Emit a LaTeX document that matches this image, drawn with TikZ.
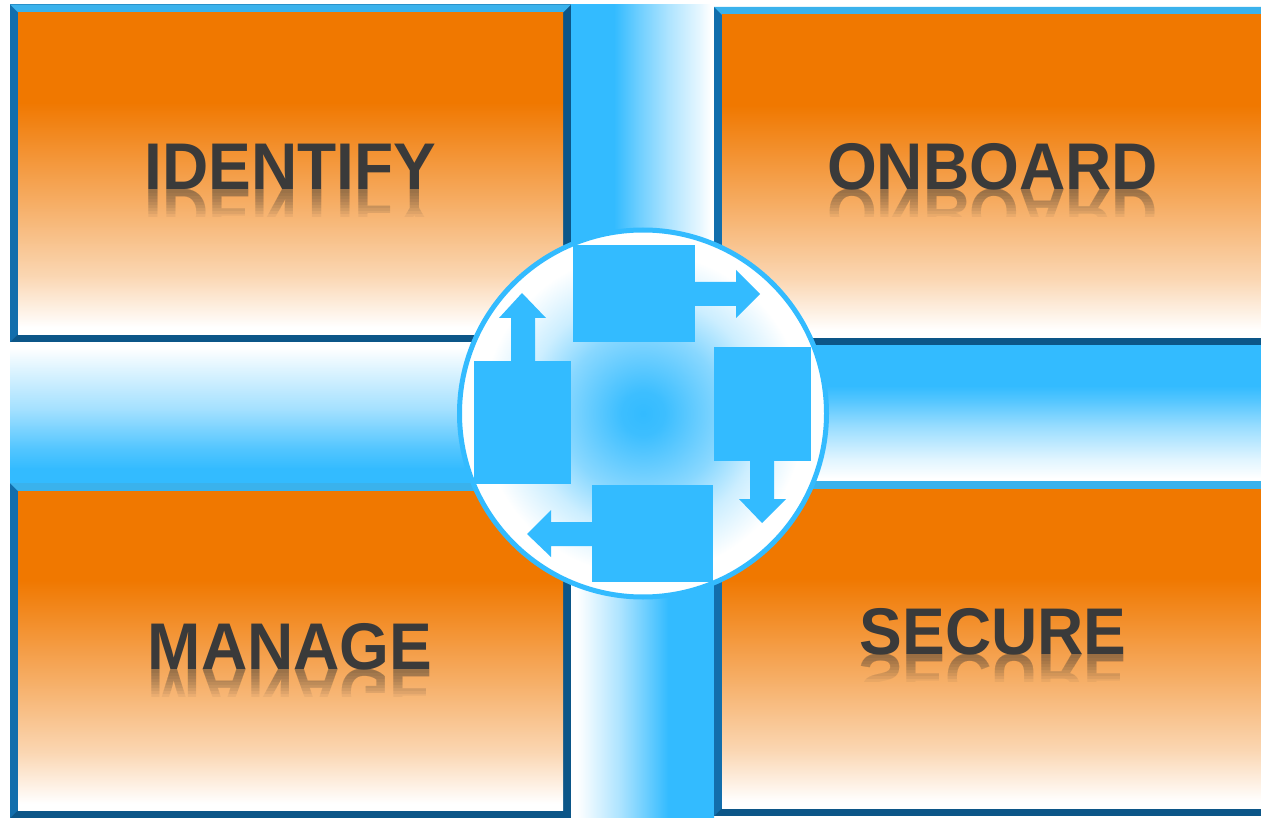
\documentclass[tikz,border=0pt]{standalone}
\usepackage{fontspec}
\setmainfont{Liberation Sans}
\definecolor{bl}{RGB}{51,187,255}
\definecolor{orng}{RGB}{240,120,0}
\definecolor{txtgray}{RGB}{58,58,58}
\definecolor{frdark}{RGB}{12,86,136}
\definecolor{frleft}{RGB}{18,110,172}
\definecolor{frtop}{RGB}{58,178,236}
\pgfdeclareverticalshading{ofade}{100bp}{color(0bp)=(white); color(26bp)=(white); color(34bp)=(orng!30!white); color(46bp)=(orng!62!white); color(61bp)=(orng); color(100bp)=(orng)}
\pgfdeclarehorizontalshading{vfadeR}{100bp}{color(0bp)=(bl); color(40bp)=(bl); color(49bp)=(bl!70!white); color(59bp)=(bl!40!white); color(70bp)=(bl!12!white); color(74bp)=(white); color(100bp)=(white)}
\pgfdeclarehorizontalshading{vfadeL}{100bp}{color(0bp)=(white); color(27bp)=(white); color(31bp)=(bl!10!white); color(42bp)=(bl!40!white); color(52bp)=(bl!75!white); color(59bp)=(bl); color(100bp)=(bl)}
\pgfdeclareverticalshading{hfadeUp}{100bp}{color(0bp)=(bl); color(30bp)=(bl); color(37bp)=(bl!85!white); color(51bp)=(bl!45!white); color(66bp)=(bl!15!white); color(73bp)=(white); color(100bp)=(white)}
\pgfdeclareverticalshading{hfadeDown}{100bp}{color(0bp)=(white); color(26bp)=(white); color(33bp)=(bl!15!white); color(45bp)=(bl!50!white); color(55bp)=(bl!85!white); color(60bp)=(bl); color(100bp)=(bl)}
\pgfdeclareradialshading{glow}{\pgfpoint{0bp}{0bp}}{color(0bp)=(bl); color(3bp)=(bl!95!white); color(11bp)=(bl!58!white); color(16bp)=(bl!25!white); color(22bp)=(white); color(50bp)=(white)}
\newcommand\panel[4]{%
  \fill[frdark] (#1,#2) rectangle (#3,#4);
  \fill[frleft] (#1,#2) -- (#1+8,#2+8) -- (#1+8,#4-8) -- (#1,#4) -- cycle;
  \fill[frtop] (#1,#2) -- (#3,#2) -- (#3-8,#2+8) -- (#1+8,#2+8) -- cycle;
  \shade[shading=ofade] (#1+8,#2+8) rectangle (#3-8,#4-8);
}
% reflection: nested layers all starting at the baseline, each faint
\newcommand\reflect[3]{%
  \foreach \h in {3,6,9,12,15,18,21,24,27}{
    \begin{scope}
      \clip (#1-220,#2) rectangle (#1+220,#2+\h);
      \node[lbl, anchor=base, yscale=-1, opacity=0.065] at (#1,#2) {#3};
    \end{scope}}%
}
\tikzset{
  lbl/.style={font=\fontsize{66}{70}\selectfont\bfseries, text=txtgray, xscale=0.97, inner sep=0pt},
  blk/.style={fill=bl}
}
\begin{document}
\begin{tikzpicture}[x=1pt,y=-1pt]
\useasboundingbox (0,0) rectangle (1261,818);
\clip (0,0) rectangle (1261,818);
% bars
\shade[shading=vfadeR] (571,5) rectangle (714,413);
\shade[shading=vfadeL] (571,413) rectangle (714,818);
\shade[shading=hfadeUp] (10,342) rectangle (643,483);
\shade[shading=hfadeDown] (643,345) rectangle (1270,481);
% panels
\panel{10}{4.5}{571}{342}
\panel{714}{7}{1275}{345}
\panel{10}{483}{571}{818}
\panel{714}{481}{1275}{816}
% labels
\node[lbl, anchor=base] (identify) at (290.5,190) {IDENTIFY};
\reflect{290.5}{190}{IDENTIFY}
\node[lbl, anchor=base] (onboard) at (992.5,190) {ONBOARD};
\reflect{992.5}{190}{ONBOARD}
\node[lbl, anchor=base] (manage) at (290,669) {MANAGE};
\reflect{290}{669}{MANAGE}
\node[lbl, anchor=base] (secure) at (993,654) {SECURE};
\reflect{993}{654}{SECURE}
% central circle
\coordinate (c) at (643,413.5);
\shade[shading=glow] (c) circle (183.5);
\draw[bl, line width=5pt] (c) circle (183.5);
% cycle blocks
\fill[blk] (573,245) rectangle (695,342);
\fill[blk] (695,282) -- (736,282) -- (736,270) -- (760,294) -- (736,318) -- (736,306) -- (695,306) -- cycle;
\fill[blk] (714,347) rectangle (811,461);
\fill[blk] (750,461) -- (750,499) -- (739,499) -- (762,523) -- (786,499) -- (774,499) -- (774,461) -- cycle;
\fill[blk] (592,485) rectangle (713,582);
\fill[blk] (592,522) -- (551,522) -- (551,510) -- (527,534) -- (551,557) -- (551,546) -- (592,546) -- cycle;
\fill[blk] (474,361) rectangle (571,484);
\fill[blk] (511,361) -- (511,318) -- (499,318) -- (522,293) -- (546,318) -- (535,318) -- (535,361) -- cycle;
\end{tikzpicture}
\end{document}
